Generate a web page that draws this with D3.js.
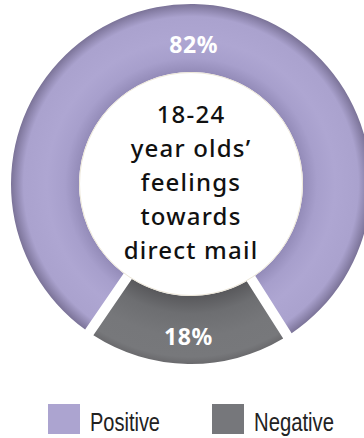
<!DOCTYPE html>
<html>
<head>
<meta charset="utf-8">
<script src="https://cdn.jsdelivr.net/npm/d3@7"></script>
<style>
  html, body { margin: 0; padding: 0; background: #fff; }
  svg { display: block; }
</style>
</head>
<body>
<svg id="chart" width="364" height="438"></svg>
<script>
// Share of 18-24 year olds by feeling towards direct mail
const categories = ["Negative", "Positive"];
const values = [18, 82];
const valueLabels = ["18%", "82%"];
const legendOrder = ["Positive", "Negative"];
const centerLines = ["18-24", "year olds\u2019", "feelings", "towards", "direct mail"];

const cx = 191, cy = 184;
const outerR = 180, innerR = 112;

const svg = d3.select("#chart");
const defs = svg.append("defs");

const color = d3.scaleOrdinal()
  .domain(categories)
  .range(["#76777b", "#aca4d0"]);

// ring shading: darker towards the inner and outer rims
const shades = {
  Positive: [[0, "#8d84b0"], [0.62, "#938bb8"], [0.70, "#a79fcc"], [0.80, "#aea6d2"], [0.93, "#aaa2ce"], [1, "#7b7398"]],
  Negative: [[0, "#56565a"], [0.62, "#58585b"], [0.72, "#6d6e71"], [0.85, "#76777a"], [0.96, "#77787b"], [1, "#6a6a6d"]]
};
categories.forEach(c => {
  const gr = defs.append("radialGradient")
    .attr("id", "grad-" + c)
    .attr("gradientUnits", "userSpaceOnUse")
    .attr("cx", 0).attr("cy", 0).attr("r", outerR);
  shades[c].forEach(([o, col]) => gr.append("stop").attr("offset", o).attr("stop-color", col));
});

const startA = Math.PI - Math.PI * values[0] / 100;
const pie = d3.pie()
  .sort(null)
  .value(d => d)
  .startAngle(startA)
  .endAngle(startA + 2 * Math.PI)
  .padAngle(10 / outerR);

const arc = d3.arc()
  .innerRadius(innerR)
  .outerRadius(outerR)
  .padRadius(outerR);

const g = svg.append("g").attr("transform", `translate(${cx},${cy})`);

const arcs = pie(values);

g.selectAll("path.slice")
  .data(arcs)
  .join("path")
  .attr("class", "slice")
  .attr("d", arc)
  .attr("fill", (d, i) => `url(#grad-${categories[i]})`);

// faint rim around the white centre
g.append("circle")
  .attr("r", innerR - 0.5)
  .attr("fill", "#fff")
  .attr("stroke", "#ece6d8")
  .attr("stroke-width", 1);

// percentage labels on each slice
const labelArc = d3.arc().innerRadius(innerR).outerRadius(outerR);
g.selectAll("text.val")
  .data(arcs)
  .join("text")
  .attr("class", "val")
  .attr("x", d => labelArc.centroid(d)[0])
  .attr("y", d => labelArc.centroid(d)[1] + 6)
  .attr("text-anchor", "middle")
  .attr("dominant-baseline", "central")
  .attr("fill", "#fff")
  .attr("font-family", "'Noto Sans', sans-serif")
  .attr("font-weight", 700)
  .attr("font-size", 23)
  .attr("letter-spacing", 0.6)
  .text((d, i) => valueLabels[i]);

// title inside the ring
const lineH = 34;
g.append("text")
  .attr("text-anchor", "middle")
  .attr("font-family", "'Noto Sans', sans-serif")
  .attr("font-weight", 500)
  .attr("font-size", 24)
  .attr("letter-spacing", 1.2)
  .attr("fill", "#111")
  .selectAll("tspan")
  .data(centerLines)
  .join("tspan")
  .attr("x", 0)
  .attr("y", (d, i) => (i - (centerLines.length - 1) / 2) * lineH - 3)
  .attr("dominant-baseline", "central")
  .text(d => d);

// legend
const legendX = d3.scalePoint().domain(legendOrder).range([48, 212]);
const legendW = { Positive: 70, Negative: 80 };
const lg = svg.append("g").selectAll("g")
  .data(legendOrder)
  .join("g")
  .attr("transform", d => `translate(${legendX(d)},404)`);
lg.append("rect")
  .attr("width", 32).attr("height", 30)
  .attr("fill", d => color(d));
lg.append("text")
  .attr("x", 42).attr("y", 27)
  .attr("font-family", "'Liberation Sans', sans-serif")
  .attr("font-size", 25)
  .attr("textLength", d => legendW[d])
  .attr("lengthAdjust", "spacingAndGlyphs")
  .attr("fill", "#222")
  .text(d => d);
</script>
</body>
</html>
